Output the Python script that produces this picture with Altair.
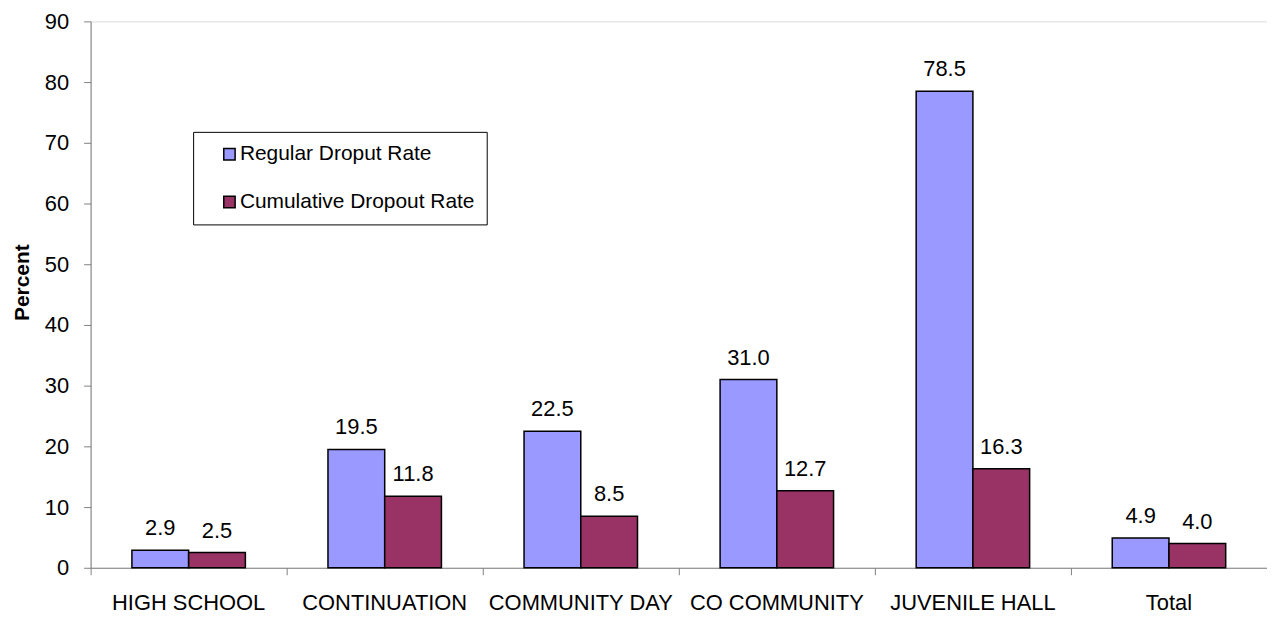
import altair as alt
import pandas as pd

categories = ["HIGH SCHOOL", "CONTINUATION", "COMMUNITY DAY", "CO COMMUNITY", "JUVENILE HALL", "Total"]
series_names = ["Regular Droput Rate", "Cumulative Dropout Rate"]
regular = [2.9, 19.5, 22.5, 31.0, 78.5, 4.9]
cumulative = [2.5, 11.8, 8.5, 12.7, 16.3, 4.0]
colors = ["#9999FF", "#993366"]
y_ticks = [0, 10, 20, 30, 40, 50, 60, 70, 80, 90]

rows = []
for c, r, cu in zip(categories, regular, cumulative):
    rows.append({"cat": c, "series": series_names[0], "value": r})
    rows.append({"cat": c, "series": series_names[1], "value": cu})
df = pd.DataFrame(rows)

FONT = "Liberation Sans"

x_enc = alt.X("cat:N", sort=categories, title=None,
              scale=alt.Scale(paddingInner=0, paddingOuter=0),
              axis=alt.Axis(labelAngle=0, labelFontSize=22, labelColor="black", labelFont=FONT,
                            tickColor="#808080", domainColor="#808080", tickSize=7,
                            bandPosition=0, labelPadding=18, ticks=True, grid=False,
                            labelLimit=400, labelOverlap=False))
xoff = alt.XOffset("series:N", sort=series_names,
                   scale=alt.Scale(paddingOuter=0.728, paddingInner=0))
y_enc = alt.Y("value:Q", title="Percent",
              scale=alt.Scale(domain=[0, 90], nice=False),
              axis=alt.Axis(values=y_ticks, labelFontSize=22, labelColor="black", labelFont=FONT,
                            tickColor="#808080", domainColor="#808080", tickSize=7,
                            labelPadding=15, grid=False, titleFont=FONT, titleFontSize=21,
                            titleFontWeight="bold", titleColor="black", titlePadding=12,
                            titleY=262))

bars = alt.Chart(df).mark_bar(stroke="black", strokeWidth=1.5).encode(
    x=x_enc, xOffset=xoff, y=y_enc,
    color=alt.Color("series:N", sort=series_names,
                    scale=alt.Scale(domain=series_names, range=colors),
                    legend=alt.Legend(title=None, orient="none", legendX=103, legendY=111,
                                      strokeColor="black", fillColor="white", padding=12,
                                      symbolOffset=14, symbolType="square", symbolSize=130,
                                      symbolStrokeColor="black", symbolStrokeWidth=1.5,
                                      labelFontSize=21, labelFont=FONT, labelColor="black",
                                      labelOffset=0, rowPadding=26, labelLimit=500,
                                      labelExpr="datum.label + '\u00a0\u00a0\u00a0\u00a0\u00a0\u00a0\u00a0\u00a0'"))
)

labels = alt.Chart(df).mark_text(font=FONT, fontSize=22, color="black", baseline="alphabetic",
                                 dy=-15).encode(
    x=alt.X("cat:N", sort=categories), xOffset=xoff,
    y=alt.Y("value:Q"),
    text=alt.Text("value:Q", format=".1f"),
)

chart = alt.layer(bars, labels).properties(
    width=1182, height=549,
    padding={"left": 3, "top": 1, "right": 0, "bottom": 0},
).configure_view(stroke=None).configure(background="white")

chart.save("out.html", embed_options={"renderer": "svg", "actions": False})
